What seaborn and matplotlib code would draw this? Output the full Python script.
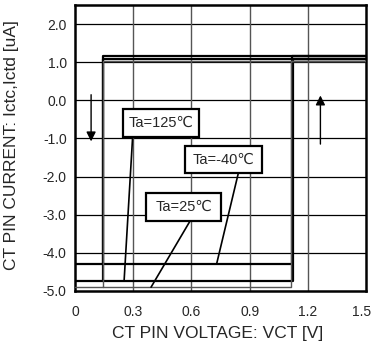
import numpy as np
import pandas as pd
import matplotlib
matplotlib.use("Agg")
import matplotlib.pyplot as plt
import matplotlib.transforms as mtransforms
from matplotlib.patches import Rectangle
import seaborn as sns

# ---- data ----
temps = ["Ta=-40℃", "Ta=125℃", "Ta=25℃"]
i_low = [-4.30, -4.75, -4.89]      # uA, sink current (rising)
i_high = [1.16, 1.09, 1.03]        # uA, source current (falling)
v_up = [1.12, 1.125, 1.115]        # V, rising threshold
v_down = [0.143, 0.143, 0.143]     # V, falling threshold
v_min, v_max = 0.0, 1.5
colors = ["black", "black", "#555555"]
widths = [1.6, 1.6, 1.0]

x_ticks = [0, 0.3, 0.6, 0.9, 1.2, 1.5]
x_ticklabels = ["0", "0.3", "0.6", "0.9", "1.2", "1.5"]
y_ticks = [-5, -4, -3, -2, -1, 0, 1, 2]
y_ticklabels = ["-5.0", "-4.0", "-3.0", "-2.0", "-1.0", "0.0", "1.0", "2.0"]

sns.set_style("white")
plt.rcParams['font.family'] = ['Liberation Sans', 'DejaVu Sans']
plt.rcParams['axes.unicode_minus'] = False

fig = plt.figure(figsize=(3.73, 3.58), dpi=100)
ax = fig.add_axes([75/373, 1-291/358, (366-75)/373, (291-5)/358])

for k, t in enumerate(temps):
    df = pd.DataFrame({
        "V": [v_min, v_up[k], v_up[k], v_max, v_down[k], v_down[k]],
        "I": [i_low[k], i_low[k], i_high[k], i_high[k], i_high[k], i_low[k]],
    })
    sns.lineplot(data=df, x="V", y="I", sort=False, estimator=None, ax=ax,
                 color=colors[k], lw=widths[k], zorder=3)

ax.set_xlim(0, 1.5)
ax.set_ylim(-5, 2.5)
ax.set_xticks(x_ticks)
ax.set_xticklabels(x_ticklabels)
ax.set_yticks(y_ticks)
ax.set_yticklabels(y_ticklabels)
ax.tick_params(axis="both", length=0, labelsize=10)
ax.tick_params(axis="x", pad=10)
ax.tick_params(axis="y", pad=6)
# nudge the last x tick label so it stays inside the canvas
last = ax.get_xticklabels()[-1]
last.set_transform(last.get_transform() +
                   mtransforms.ScaledTranslation(-4/100, 0, fig.dpi_scale_trans))
for y in y_ticks[1:]:
    ax.axhline(y, color="black", lw=0.9, zorder=1)
for x in x_ticks[1:-1]:
    ax.axvline(x, color="#555555", lw=1.0, zorder=1)
for s in ax.spines.values():
    s.set_color("black")
    s.set_linewidth(1.8)

ax.set_xlabel("CT PIN VOLTAGE: VCT [V]", fontsize=12.5)
ax.set_ylabel("CT PIN CURRENT: Ictc,Ictd [uA]", fontsize=12.5)
ax.xaxis.set_label_coords(0.491, -0.122)
ax.yaxis.set_label_coords(-0.193, 0.51)

# arrows
ax.annotate("", xy=(0.083, -1.15), xytext=(0.083, 0.22),
            arrowprops=dict(arrowstyle="-|>", color="black", lw=1.0, mutation_scale=14))
ax.annotate("", xy=(1.265, 0.2), xytext=(1.265, -1.22),
            arrowprops=dict(arrowstyle="-|>", color="black", lw=1.0, mutation_scale=14))

# labels: (text, box x0, x1, y0, y1, pointer start, pointer end)
labels = [("Ta=125℃", 0.247, 0.639, -0.963, -0.229, (0.297, -0.963), (0.253, -4.74)),
          ("Ta=-40℃", 0.567, 0.964, -1.907, -1.199, (0.842, -1.907), (0.730, -4.29)),
          ("Ta=25℃", 0.366, 0.753, -3.165, -2.431, (0.593, -3.165), (0.392, -4.90))]
for txt, x0, x1, y0, y1, p0, p1 in labels:
    ax.plot([p0[0], p1[0]], [p0[1], p1[1]], color="black", lw=1.2, zorder=4)
    ax.add_patch(Rectangle((x0, y0), x1 - x0, y1 - y0, fc="white", ec="black",
                           lw=1.6, zorder=5))
    ax.text((x0 + x1) / 2, (y0 + y1) / 2, txt, ha="center", va="center",
            fontsize=10.5, zorder=6,
            family=['Liberation Sans', 'DejaVu Sans', 'Noto Sans CJK JP'])

fig.savefig("out.png", dpi=100)
